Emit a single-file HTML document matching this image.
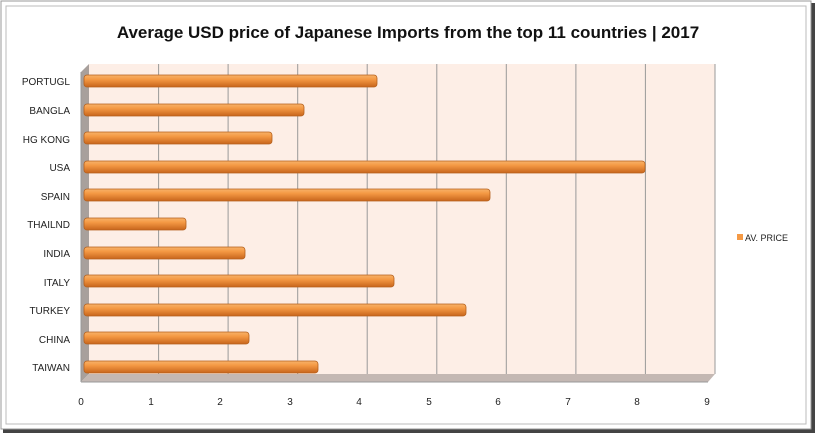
<!DOCTYPE html><html><head><style>body{margin:0;background:#fff}</style></head><body>
<svg width="820" height="438" xmlns="http://www.w3.org/2000/svg" font-family="Liberation Sans, sans-serif">
<defs><linearGradient id="g" x1="0" y1="0" x2="0" y2="1"><stop offset="0" stop-color="#f7b26a"/><stop offset="0.35" stop-color="#f59a45"/><stop offset="1" stop-color="#c8651c"/></linearGradient></defs>
<rect x="3" y="3" width="812" height="430" fill="#444"/>
<rect x="1" y="1" width="810" height="428" fill="#fff" stroke="#999"/>
<rect x="6" y="6" width="800" height="418" fill="#fff" stroke="#bbb"/>
<text x="408" y="38" text-anchor="middle" font-size="17" font-weight="bold" fill="#111">Average USD price of Japanese Imports from the top 11 countries | 2017</text>
<polygon points="89,64 715,64 715,374 89,374" fill="#fdeee6"/>
<polygon points="81,72 89,64 89,374 81,382" fill="#a8a09c"/>
<polygon points="81,382 89,374 715,374 708,382" fill="#c4b8b3"/>
<g stroke="#999" stroke-width="1">
<line x1="158.6" y1="64" x2="158.6" y2="374"/><line x1="228.1" y1="64" x2="228.1" y2="374"/><line x1="297.7" y1="64" x2="297.7" y2="374"/><line x1="367.2" y1="64" x2="367.2" y2="374"/><line x1="436.8" y1="64" x2="436.8" y2="374"/><line x1="506.3" y1="64" x2="506.3" y2="374"/><line x1="575.9" y1="64" x2="575.9" y2="374"/><line x1="645.4" y1="64" x2="645.4" y2="374"/><line x1="715" y1="64" x2="715" y2="374"/>
<line x1="81" y1="382" x2="708" y2="382"/><line x1="81" y1="72" x2="81" y2="382"/>
</g>
<g font-size="10" fill="#222" text-anchor="middle">
<text x="81" y="405">0</text><text x="151" y="405">1</text><text x="220" y="405">2</text><text x="290" y="405">3</text><text x="359" y="405">4</text><text x="429" y="405">5</text><text x="498" y="405">6</text><text x="568" y="405">7</text><text x="637" y="405">8</text><text x="707" y="405">9</text>
</g>
<g font-size="10" fill="#222" text-anchor="end">
<text x="70" y="85">PORTUGL</text><text x="70" y="114">BANGLA</text><text x="70" y="143">HG KONG</text><text x="70" y="171">USA</text><text x="70" y="200">SPAIN</text><text x="70" y="228">THAILND</text><text x="70" y="257">INDIA</text><text x="70" y="286">ITALY</text><text x="70" y="314">TURKEY</text><text x="70" y="343">CHINA</text><text x="70" y="371">TAIWAN</text>
</g>
<g fill="url(#g)" stroke="#b5601c" stroke-width="0.8">
<rect x="84" y="75" width="293" height="12" rx="3"/>
<rect x="84" y="104" width="220" height="12" rx="3"/>
<rect x="84" y="132" width="188" height="12" rx="3"/>
<rect x="84" y="161" width="561" height="12" rx="3"/>
<rect x="84" y="189" width="406" height="12" rx="3"/>
<rect x="84" y="218" width="102" height="12" rx="3"/>
<rect x="84" y="247" width="161" height="12" rx="3"/>
<rect x="84" y="275" width="310" height="12" rx="3"/>
<rect x="84" y="304" width="382" height="12" rx="3"/>
<rect x="84" y="332" width="165" height="12" rx="3"/>
<rect x="84" y="361" width="234" height="12" rx="3"/>
</g>
<rect x="737" y="234" width="6" height="6" fill="#f59a45"/>
<text x="745" y="241" font-size="9" fill="#222">AV. PRICE</text>
</svg>
</body></html>
